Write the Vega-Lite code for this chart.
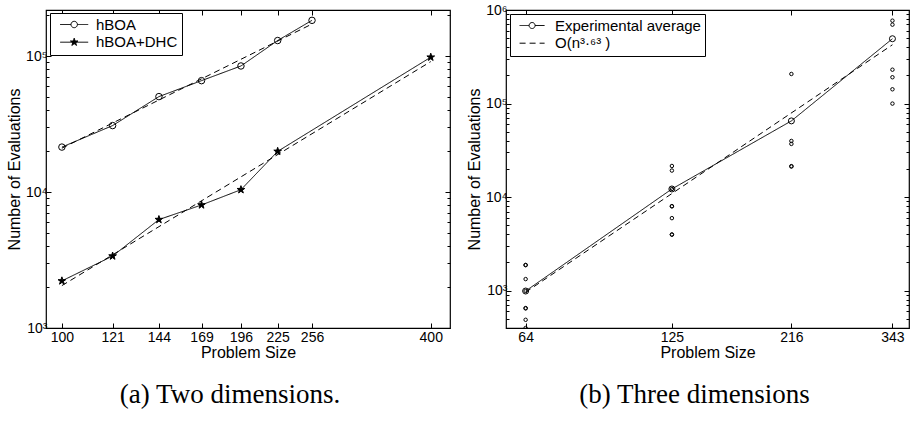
{
  "$schema": "https://vega.github.io/schema/vega-lite/v6.json",
  "padding": {"left": 5, "top": 2, "right": 0, "bottom": 0},
  "bounds": "flush",
  "spacing": 56,
  "resolve": {"scale": {"strokeDash": "independent"}, "legend": {"strokeDash": "independent"}},
  "config": {
    "font": "Liberation Sans",
    "view": {"stroke": "black", "strokeWidth": 1.2},
    "axis": {"domain": false, "grid": false, "tickColor": "black", "labelColor": "black", "titleColor": "black", "labelFontSize": 14, "titleFontSize": 16, "titleFontWeight": "normal", "tickWidth": 1, "labelFont": "Liberation Sans", "titleFont": "Liberation Sans"},
    "legend": {"labelFont": "Liberation Sans", "labelColor": "black", "labelFontSize": 15, "strokeColor": "black", "fillColor": "white", "padding": 4, "symbolSize": 100, "rowPadding": 1.7, "symbolStrokeColor": "black", "symbolStrokeWidth": 1, "orient": "none"},
    "title": {"font": "Liberation Serif", "fontSize": 27, "fontWeight": "normal", "color": "black", "orient": "bottom", "anchor": "middle"}
  },
  "hconcat": [
    {
      "width": 404,
      "height": 318,
      "title": {"text": "(a) Two dimensions.", "orient": "bottom", "offset": 22, "dx": -18},
      "data": {"values": [
        {"series": "hBOA", "kind": "data", "n": 100, "evals": 21400},
        {"series": "hBOA", "kind": "data", "n": 121, "evals": 30800},
        {"series": "hBOA", "kind": "data", "n": 144, "evals": 50300},
        {"series": "hBOA", "kind": "data", "n": 169, "evals": 65900},
        {"series": "hBOA", "kind": "data", "n": 196, "evals": 84500},
        {"series": "hBOA", "kind": "data", "n": 225, "evals": 130000},
        {"series": "hBOA", "kind": "data", "n": 256, "evals": 183000},
        {"series": "hBOA+DHC", "kind": "data", "n": 100, "evals": 2220},
        {"series": "hBOA+DHC", "kind": "data", "n": 121, "evals": 3380},
        {"series": "hBOA+DHC", "kind": "data", "n": 144, "evals": 6270},
        {"series": "hBOA+DHC", "kind": "data", "n": 169, "evals": 8030},
        {"series": "hBOA+DHC", "kind": "data", "n": 196, "evals": 10400},
        {"series": "hBOA+DHC", "kind": "data", "n": 225, "evals": 19900},
        {"series": "hBOA+DHC", "kind": "data", "n": 400, "evals": 98000},
        {"series": "fit hBOA", "kind": "fit", "n": 100, "evals": 21000},
        {"series": "fit hBOA", "kind": "fit", "n": 256, "evals": 172000},
        {"series": "fit hBOA+DHC", "kind": "fit", "n": 100, "evals": 2050},
        {"series": "fit hBOA+DHC", "kind": "fit", "n": 400, "evals": 91000}
      ]},
      "resolve": {"axis": {"x": "independent", "y": "independent"}},
      "layer": [
        {
          "transform": [{"filter": "datum.kind == 'fit'"}],
          "mark": {"type": "line", "color": "black", "strokeWidth": 1, "strokeDash": [6, 4], "clip": true},
          "encoding": {
            "x": {"field": "n", "type": "quantitative", "scale": {"type": "log", "domain": [94.2, 430], "nice": false, "zero": false},
                  "axis": {"orient": "bottom", "values": [100, 121, 144, 169, 196, 225, 256, 400], "format": "d", "tickSize": -5, "labelPadding": 7, "title": "Problem Size", "titlePadding": 0, "labelFlush": false, "labelOverlap": false}},
            "y": {"field": "evals", "type": "quantitative", "scale": {"type": "log", "domain": [1000, 218000], "nice": false, "zero": false},
                  "axis": {"orient": "left", "values": [1000, 2000, 3000, 4000, 5000, 6000, 7000, 8000, 9000, 10000, 20000, 30000, 40000, 50000, 60000, 70000, 80000, 90000, 100000, 200000],
                           "tickSize": {"condition": {"test": "datum.value == 1000 || datum.value == 10000 || datum.value == 100000", "value": -5}, "value": -3},
                           "labelExpr": "datum.value == 1000 ? '10³' : datum.value == 10000 ? '10⁴' : datum.value == 100000 ? '10⁵' : ''",
                           "labelPadding": 4, "labelOverlap": false, "labelFlush": false, "title": "Number of Evaluations", "titlePadding": 3}},
            "detail": {"field": "series"}
          }
        },
        {
          "transform": [{"filter": "datum.kind == 'data'"}],
          "mark": {"type": "line", "color": "black", "strokeWidth": 1},
          "encoding": {
            "x": {"field": "n", "type": "quantitative", "axis": null},
            "y": {"field": "evals", "type": "quantitative", "axis": null},
            "strokeDash": {"field": "series", "type": "nominal",
                           "scale": {"domain": ["hBOA", "hBOA+DHC"], "range": [[1, 0], [1, 0]]},
                           "legend": {"title": null, "legendX": 4, "legendY": 3, "symbolOffset": 12.7, "labelOffset": 14.3, "symbolType": "stroke",
                                      "encode": {"symbols": {"update": {
                                        "shape": {"signal": "datum.value == 'hBOA' ? 'M-2.8,0H-0.64M0.64,0H2.8M-0.64,0A0.64,0.64 0 1,0 0.64,0A0.64,0.64 0 1,0 -0.64,0' : 'M-2.8,0H2.8M0,-0.8L0.18,-0.247L0.761,-0.247L0.29,0.094L0.47,0.647L0,0.306L-0.47,0.647L-0.29,0.094L-0.761,-0.247L-0.18,-0.247Z'"},
                                        "fill": {"signal": "datum.value == 'hBOA' ? 'transparent' : 'black'"},
                                        "stroke": {"value": "black"},
                                        "strokeWidth": {"value": 1},
                                        "opacity": {"value": 1}
                                      }}}}}
          }
        },
        {
          "transform": [{"filter": "datum.series == 'hBOA'"}],
          "mark": {"type": "point", "shape": "circle", "filled": false, "stroke": "black", "strokeWidth": 1, "size": 42, "opacity": 1},
          "encoding": {
            "x": {"field": "n", "type": "quantitative",
                  "axis": {"orient": "top", "values": [100, 121, 144, 169, 196, 225, 256, 400], "tickSize": -5, "labels": false, "title": null}},
            "y": {"field": "evals", "type": "quantitative",
                  "axis": {"orient": "right", "values": [1000, 2000, 3000, 4000, 5000, 6000, 7000, 8000, 9000, 10000, 20000, 30000, 40000, 50000, 60000, 70000, 80000, 90000, 100000, 200000],
                           "tickSize": {"condition": {"test": "datum.value == 1000 || datum.value == 10000 || datum.value == 100000", "value": -5}, "value": -3},
                           "labels": false, "title": null}}
          }
        },
        {
          "transform": [{"filter": "datum.series == 'hBOA+DHC'"}],
          "mark": {"type": "point", "shape": "M0,-1.25L0.282,-0.388L1.189,-0.386L0.457,0.148L0.735,1.011L0,0.48L-0.735,1.011L-0.457,0.148L-1.189,-0.386L-0.282,-0.388Z", "filled": true, "fill": "black", "stroke": "black", "strokeWidth": 1, "size": 42, "opacity": 1},
          "encoding": {
            "x": {"field": "n", "type": "quantitative", "axis": null},
            "y": {"field": "evals", "type": "quantitative", "axis": null}
          }
        }
      ]
    },
    {
      "width": 403,
      "height": 318,
      "title": {"text": "(b) Three dimensions", "orient": "bottom", "offset": 22, "dx": -13},
      "data": {"values": [
        {"series": "Experimental average", "kind": "avg", "n": 64, "evals": 989},
        {"series": "Experimental average", "kind": "avg", "n": 125, "evals": 12200},
        {"series": "Experimental average", "kind": "avg", "n": 216, "evals": 65200},
        {"series": "Experimental average", "kind": "avg", "n": 343, "evals": 493000},
        {"series": "O(n³·⁶³ )", "kind": "fit", "n": 64, "evals": 960},
        {"series": "O(n³·⁶³ )", "kind": "fit", "n": 343, "evals": 425000},
        {"series": "run", "kind": "sample", "n": 64, "evals": 1870},
        {"series": "run", "kind": "sample", "n": 64, "evals": 1880},
        {"series": "run", "kind": "sample", "n": 64, "evals": 1327},
        {"series": "run", "kind": "sample", "n": 64, "evals": 989},
        {"series": "run", "kind": "sample", "n": 64, "evals": 650},
        {"series": "run", "kind": "sample", "n": 64, "evals": 645},
        {"series": "run", "kind": "sample", "n": 64, "evals": 487},
        {"series": "run", "kind": "sample", "n": 64, "evals": 398},
        {"series": "run", "kind": "sample", "n": 125, "evals": 21500},
        {"series": "run", "kind": "sample", "n": 125, "evals": 19200},
        {"series": "run", "kind": "sample", "n": 125, "evals": 12200},
        {"series": "run", "kind": "sample", "n": 125, "evals": 8000},
        {"series": "run", "kind": "sample", "n": 125, "evals": 7950},
        {"series": "run", "kind": "sample", "n": 125, "evals": 5950},
        {"series": "run", "kind": "sample", "n": 125, "evals": 3980},
        {"series": "run", "kind": "sample", "n": 125, "evals": 3960},
        {"series": "run", "kind": "sample", "n": 216, "evals": 207000},
        {"series": "run", "kind": "sample", "n": 216, "evals": 39800},
        {"series": "run", "kind": "sample", "n": 216, "evals": 37000},
        {"series": "run", "kind": "sample", "n": 216, "evals": 21400},
        {"series": "run", "kind": "sample", "n": 216, "evals": 21200},
        {"series": "run", "kind": "sample", "n": 343, "evals": 769000},
        {"series": "run", "kind": "sample", "n": 343, "evals": 697000},
        {"series": "run", "kind": "sample", "n": 343, "evals": 230000},
        {"series": "run", "kind": "sample", "n": 343, "evals": 191000},
        {"series": "run", "kind": "sample", "n": 343, "evals": 142000},
        {"series": "run", "kind": "sample", "n": 343, "evals": 99800}
      ]},
      "resolve": {"axis": {"x": "independent", "y": "independent"}},
      "layer": [
        {
          "transform": [{"filter": "datum.kind == 'avg' || datum.kind == 'fit'"}],
          "mark": {"type": "line", "color": "black", "strokeWidth": 1, "clip": true},
          "encoding": {
            "x": {"field": "n", "type": "quantitative", "scale": {"type": "log", "domain": [58.5, 370], "nice": false, "zero": false},
                  "axis": {"orient": "bottom", "values": [64, 125, 216, 343], "format": "d", "tickSize": -5, "labelPadding": 7, "title": "Problem Size", "titlePadding": 0, "labelFlush": false, "labelOverlap": false}},
            "y": {"field": "evals", "type": "quantitative", "scale": {"type": "log", "domain": [398, 1000000], "nice": false, "zero": false},
                  "axis": {"orient": "left", "values": [400, 500, 600, 700, 800, 900, 1000, 2000, 3000, 4000, 5000, 6000, 7000, 8000, 9000, 10000, 20000, 30000, 40000, 50000, 60000, 70000, 80000, 90000, 100000, 200000, 300000, 400000, 500000, 600000, 700000, 800000, 900000, 1000000],
                           "tickSize": {"condition": {"test": "datum.value == 1000 || datum.value == 10000 || datum.value == 100000 || datum.value == 1000000", "value": -5}, "value": -3},
                           "labelExpr": "datum.value == 1000 ? '10³' : datum.value == 10000 ? '10⁴' : datum.value == 100000 ? '10⁵' : datum.value == 1000000 ? '10⁶' : ''",
                           "labelPadding": 4, "labelOverlap": false, "labelFlush": false, "title": "Number of Evaluations", "titlePadding": 3}},
            "strokeDash": {"field": "series", "type": "nominal",
                           "scale": {"domain": ["Experimental average", "O(n³·⁶³ )"], "range": [[1, 0], [6, 4]]},
                           "legend": {"title": null, "legendX": 4, "legendY": 4, "symbolOffset": 10.6, "labelOffset": 15.4, "symbolType": "stroke",
                                      "encode": {"symbols": {"update": {
                                        "shape": {"signal": "datum.value == 'Experimental average' ? 'M-2.5,0H-0.6M0.6,0H2.5M-0.6,0A0.6,0.6 0 1,0 0.6,0A0.6,0.6 0 1,0 -0.6,0' : 'M-2.5,0H2.5'"},
                                        "fill": {"value": "transparent"},
                                        "stroke": {"value": "black"},
                                        "strokeWidth": {"value": 1},
                                        "opacity": {"value": 1}
                                      }}}}}
          }
        },
        {
          "transform": [{"filter": "datum.kind == 'avg'"}],
          "mark": {"type": "point", "filled": false, "stroke": "black", "strokeWidth": 1, "size": 36, "opacity": 1},
          "encoding": {
            "x": {"field": "n", "type": "quantitative",
                  "axis": {"orient": "top", "values": [64, 125, 216, 343], "tickSize": -5, "labels": false, "title": null}},
            "y": {"field": "evals", "type": "quantitative",
                  "axis": {"orient": "right", "values": [400, 500, 600, 700, 800, 900, 1000, 2000, 3000, 4000, 5000, 6000, 7000, 8000, 9000, 10000, 20000, 30000, 40000, 50000, 60000, 70000, 80000, 90000, 100000, 200000, 300000, 400000, 500000, 600000, 700000, 800000, 900000, 1000000],
                           "tickSize": {"condition": {"test": "datum.value == 1000 || datum.value == 10000 || datum.value == 100000 || datum.value == 1000000", "value": -5}, "value": -3},
                           "labels": false, "title": null}}
          }
        },
        {
          "transform": [{"filter": "datum.kind == 'sample'"}],
          "mark": {"type": "point", "filled": false, "stroke": "black", "strokeWidth": 1, "size": 12, "opacity": 1, "clip": true},
          "encoding": {
            "x": {"field": "n", "type": "quantitative", "axis": null},
            "y": {"field": "evals", "type": "quantitative", "axis": null}
          }
        }
      ]
    }
  ]
}
